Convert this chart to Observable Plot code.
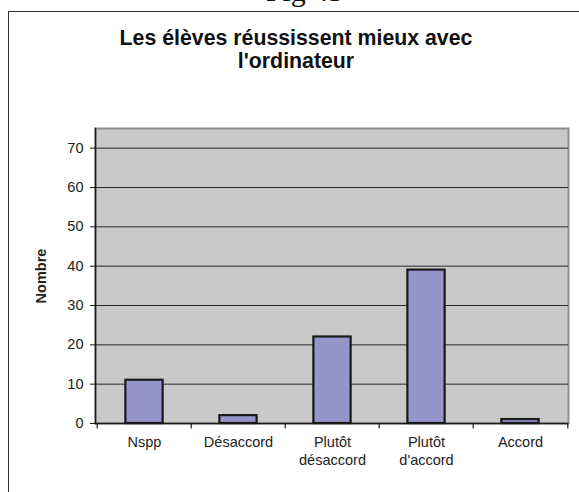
<!DOCTYPE html>
<html>
<head>
<meta charset="utf-8">
<script src="https://cdn.jsdelivr.net/npm/d3@7"></script>
<script src="https://cdn.jsdelivr.net/npm/@observablehq/plot@0.6"></script>
<style>
  html, body { margin: 0; padding: 0; background: #fff; overflow: hidden; }
  #wrap { position: relative; width: 579px; height: 492px; overflow: hidden; font-family: "Liberation Sans", Arial, sans-serif; }
  #fig { position: absolute; left: 0; width: 609px; top: -26px; text-align: center; font-family: "Liberation Serif", "Times New Roman", serif; font-size: 30px; color: #111; line-height: 34px; }
  #box { position: absolute; left: 8px; top: 11px; width: 700px; height: 700px; border: 1.5px solid #333; box-sizing: border-box; }
  #title { position: absolute; left: 96px; width: 400px; top: 27px; text-align: center; font-weight: bold; font-size: 21.3px; line-height: 23px; color: #111; }
  #chart { position: absolute; left: 0; top: 0; }
  #chart svg { font-family: "Liberation Sans", Arial, sans-serif; }
  [aria-label="y-axis label"] text { font-weight: bold; font-size: 14.5px; }
</style>
</head>
<body>
<div id="wrap">
  <div id="fig">Fig 45</div>
  <div id="box"></div>
  <div id="title">Les élèves réussissent mieux avec<br>l'ordinateur</div>
  <div id="chart"></div>
</div>
<script>
const categories = ["Nspp", "Désaccord", "Plutôt\ndésaccord", "Plutôt\nd'accord", "Accord"];
const values = [11, 2, 22, 39, 1];
const yTicks = [0, 10, 20, 30, 40, 50, 60, 70];
const yMax = 75;

const data = categories.map((c, i) => ({cat: c, n: values[i]}));

const W = 579, H = 492;
const mL = 95, mR = 11, mT = 128, mB = 69;
const step = (W - mL - mR) / categories.length;
const inset = step * 0.3;

const chart = Plot.plot({
  width: W,
  height: H,
  marginLeft: mL,
  marginRight: mR,
  marginTop: mT,
  marginBottom: mB,
  style: {fontSize: "14.5px", color: "#222", background: "transparent"},
  x: {domain: categories, padding: 0, label: null},
  y: {domain: [0, yMax], label: null},
  marks: [
    Plot.frame({fill: "#c9c9c9", stroke: "#8e8e8e", strokeWidth: 2}),
    Plot.ruleY(yTicks.filter(t => t > 0), {stroke: "#2a2a2a", strokeWidth: 1}),
    Plot.barY(data, {x: "cat", y: "n", fill: "#9595c9", stroke: "#1a1a1a", strokeWidth: 2.2, insetLeft: inset, insetRight: inset}),
    Plot.ruleY([0], {stroke: "#1a1a1a", strokeWidth: 1.5}),
    Plot.frame({anchor: "left", stroke: "#1a1a1a", strokeWidth: 1.5}),
    Plot.ruleX(categories, {x: d => d, dx: -step / 2, y1: 0, y2: -1.4, stroke: "#1a1a1a", strokeWidth: 1.2}),
    Plot.ruleX([categories[categories.length - 1]], {x: d => d, dx: step / 2, y1: 0, y2: -1.4, stroke: "#1a1a1a", strokeWidth: 1.2}),
    Plot.axisY({ticks: yTicks, tickSize: 5, tickPadding: 7, stroke: "#1a1a1a", label: "Nombre", labelAnchor: "center", labelArrow: "none", labelOffset: 60, fontSize: 14.5}),
    Plot.axisX({tickSize: 0, tickPadding: 11, lineHeight: 1.25, fontSize: 14.5})
  ]
});
document.getElementById("chart").appendChild(chart);
</script>
</body>
</html>
